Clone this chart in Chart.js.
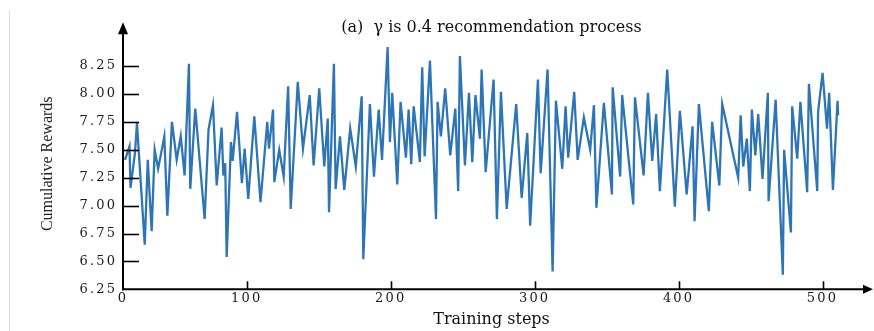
<!DOCTYPE html>
<html><head><meta charset="utf-8">
<script src="https://cdn.jsdelivr.net/npm/chart.js@4.4.0/dist/chart.umd.min.js"></script>
<style>
html,body{margin:0;padding:0;background:#fff;}
#wrap{position:relative;width:874px;height:331px;overflow:hidden;}
#edge{position:absolute;left:9px;top:10px;width:1px;height:321px;background:#dcdcdc;}
canvas{position:absolute;left:0;top:0;}
</style></head><body>
<div id="wrap"><canvas id="c" width="874" height="331"></canvas><div id="edge"></div></div>
<script>
const chartTitle = '(a)  \u03b3 is 0.4 recommendation process';
const xTitle = 'Training steps';
const yTitle = 'Cumulative Rewards';

const steps = [15.5,18.6,19.3,22.4,23.8,29.2,31.3,34.0,36.1,38.5,40.3,42.8,44.9,48.1,51.4,54.2,56.9,59.9,60.8,64.3,
70.8,73.5,76.6,79.2,82.6,83.8,85.1,86.1,89.1,90.3,93.3,96.7,98.6,101.1,105.3,109.6,114.3,115.5,118.3,119.2,
122.6,125.7,128.8,130.6,135.5,139.1,143.8,146.5,150.4,153.9,156.3,157.2,160.6,161.8,164.8,167.8,171.9,175.8,179.9,181.0,
185.6,188.4,191.7,194.0,197.9,199.5,201.1,204.6,206.9,210.6,212.5,214.3,216.0,220.3,221.9,223.6,227.3,231.5,232.6,234.9,
237.9,241.4,244.9,246.9,248.1,251.6,254.4,256.7,258.9,262.0,263.2,266.0,271.5,273.8,276.6,280.6,287.2,291.0,294.9,296.9,
302.3,304.2,309.0,312.5,314.8,319.2,321.5,323.3,327.5,329.9,334.2,338.6,341.2,342.9,348.1,353.7,354.2,359.4,360.8,368.5,
369.7,375.7,378.7,381.7,384.4,387.0,392.1,397.4,400.9,405.6,409.7,411.1,414.1,421.0,423.3,428.3,430.3,441.4,443.1,444.9,
447.4,449.5,450.9,453.3,455.3,458.3,462.0,462.5,467.4,472.4,473.3,478.0,478.9,482.4,484.6,489.3,490.5,496.3,496.9,500.0,
503.1,504.6,507.2,510.4,510.8];
const rewards = [7.41,7.53,7.16,7.47,7.74,6.65,7.41,6.77,7.50,7.33,7.45,7.62,6.91,7.75,7.41,7.62,7.27,8.27,7.15,7.87,
6.88,7.68,7.90,7.18,7.70,7.27,7.38,6.54,7.57,7.40,7.84,7.20,7.51,7.06,7.80,7.03,7.75,7.51,7.86,7.21,
7.50,7.26,8.07,6.97,8.11,7.51,7.99,7.36,8.05,7.35,7.78,6.94,8.27,7.15,7.62,7.14,7.69,7.35,7.98,6.52,
7.91,7.26,7.86,7.41,8.42,7.57,8.01,7.19,7.93,7.43,7.86,7.37,7.89,7.39,8.24,7.44,8.30,6.88,7.93,7.62,
8.05,7.45,7.87,7.13,8.34,7.36,8.01,7.39,7.99,7.60,8.22,7.30,8.13,6.88,8.02,6.97,7.91,7.07,7.65,6.82,
8.13,7.29,8.22,6.41,7.94,7.33,7.89,7.43,8.02,7.41,7.79,7.50,7.90,6.98,7.92,7.10,8.06,7.26,7.99,7.01,
7.97,7.27,8.01,7.40,7.82,7.13,8.22,6.99,7.85,7.10,7.71,6.86,7.91,6.95,7.75,7.18,7.91,7.25,7.81,7.35,
7.60,7.13,7.86,7.45,7.82,7.24,8.01,7.04,7.95,6.38,7.50,6.76,7.89,7.42,7.93,7.12,8.09,7.13,7.84,8.19,
7.69,8.01,7.14,7.94,7.81];

const xRange = [14.1, 526.0];
const xTickValues = [14.1, 100, 200, 300, 400, 500];
const xTickLabels = ['0', '100', '200', '300', '400', '500'];
const yRange = [6.25, 8.5];
const yTickValues = [6.25, 6.5, 6.75, 7.0, 7.25, 7.5, 7.75, 8.0, 8.25];
const yTickLabels = ['6.25', '6.50', '6.75', '7.00', '7.25', '7.50', '7.75', '8.00', '8.25'];

const serif = 'DejaVu Serif';
const tickSpacing = 2.2;

const axisPlugin = {
  id: 'arrowAxes',
  afterDatasetsDraw(chart) {
    const {ctx, chartArea, scales} = chart;
    const left = chartArea.left, bottom = chartArea.bottom, top = chartArea.top;
    ctx.save();
    ctx.strokeStyle = '#000';
    ctx.fillStyle = '#000';
    ctx.lineWidth = 2;
    ctx.beginPath();
    ctx.moveTo(left, bottom + 1);
    ctx.lineTo(left, top - 6);
    ctx.stroke();
    ctx.beginPath();
    ctx.moveTo(left, top - 16);
    ctx.lineTo(left - 5, top - 4);
    ctx.lineTo(left + 5, top - 4);
    ctx.closePath();
    ctx.fill();
    const xEnd = chart.width - 1;
    ctx.beginPath();
    ctx.moveTo(left - 1, bottom);
    ctx.lineTo(xEnd - 8, bottom);
    ctx.stroke();
    ctx.beginPath();
    ctx.moveTo(xEnd, bottom);
    ctx.lineTo(xEnd - 10, bottom - 4.5);
    ctx.lineTo(xEnd - 10, bottom + 4.5);
    ctx.closePath();
    ctx.fill();
    ctx.lineWidth = 1.6;
    yTickValues.slice(1).forEach(v => {
      const py = Math.round(scales.y.getPixelForValue(v)) + 0.5;
      ctx.beginPath(); ctx.moveTo(left, py); ctx.lineTo(left + 16, py); ctx.stroke();
    });
    xTickValues.slice(1).forEach(v => {
      const px = Math.round(scales.x.getPixelForValue(v)) + 0.5;
      ctx.beginPath(); ctx.moveTo(px, bottom); ctx.lineTo(px, bottom - 8); ctx.stroke();
    });
    ctx.restore();
    // tick labels (ticks.z = 1) are drawn next, with wider letter spacing
    ctx.letterSpacing = tickSpacing + 'px';
  },
  afterDraw(chart) {
    chart.ctx.letterSpacing = '0px';
  }
};

new Chart(document.getElementById('c'), {
  type: 'line',
  data: {
    datasets: [{
      data: steps.map((s, i) => ({x: s, y: rewards[i]})),
      borderColor: 'rgb(46,117,182)',
      borderWidth: 2.3,
      pointRadius: 0,
      tension: 0,
      fill: false
    }]
  },
  options: {
    responsive: false,
    animation: false,
    devicePixelRatio: 1,
    layout: {padding: {left: 0, right: 14, top: 0, bottom: 0}},
    plugins: {
      legend: {display: false},
      tooltip: {enabled: false},
      title: {
        display: true, text: chartTitle, fullSize: false, color: '#111',
        font: {family: serif, size: 16, weight: 'normal'},
        padding: {top: 18.4, bottom: 0.6}
      }
    },
    scales: {
      x: {
        type: 'linear', min: xRange[0], max: xRange[1],
        afterBuildTicks: s => { s.ticks = xTickValues.map(v => ({value: v})); },
        afterFit: s => { s.height = 41.7; },
        ticks: {
          callback: (v, i) => xTickLabels[i],
          font: {family: serif, size: 13}, color: '#1a1a1a', padding: 2,
          maxRotation: 0, autoSkip: false, z: 1
        },
        grid: {display: false, drawTicks: false},
        border: {display: false},
        title: {display: true, text: xTitle, color: '#111',
          font: {family: serif, size: 16}, padding: {top: 0, bottom: 1.9}}
      },
      y: {
        type: 'linear', min: yRange[0], max: yRange[1],
        afterBuildTicks: s => { s.ticks = yTickValues.map(v => ({value: v})); },
        afterFit: s => { s.width = 123; },
        ticks: {
          callback: (v, i) => yTickLabels[i],
          font: {family: serif, size: 13}, color: '#1a1a1a', padding: 8 - tickSpacing, z: 1
        },
        grid: {display: false, drawTicks: false},
        border: {display: false},
        title: {display: true, text: yTitle, color: '#222',
          font: {family: 'Liberation Serif', size: 16}, padding: {top: 38.4, bottom: 0}}
      }
    }
  },
  plugins: [axisPlugin]
});
</script>
</body></html>
